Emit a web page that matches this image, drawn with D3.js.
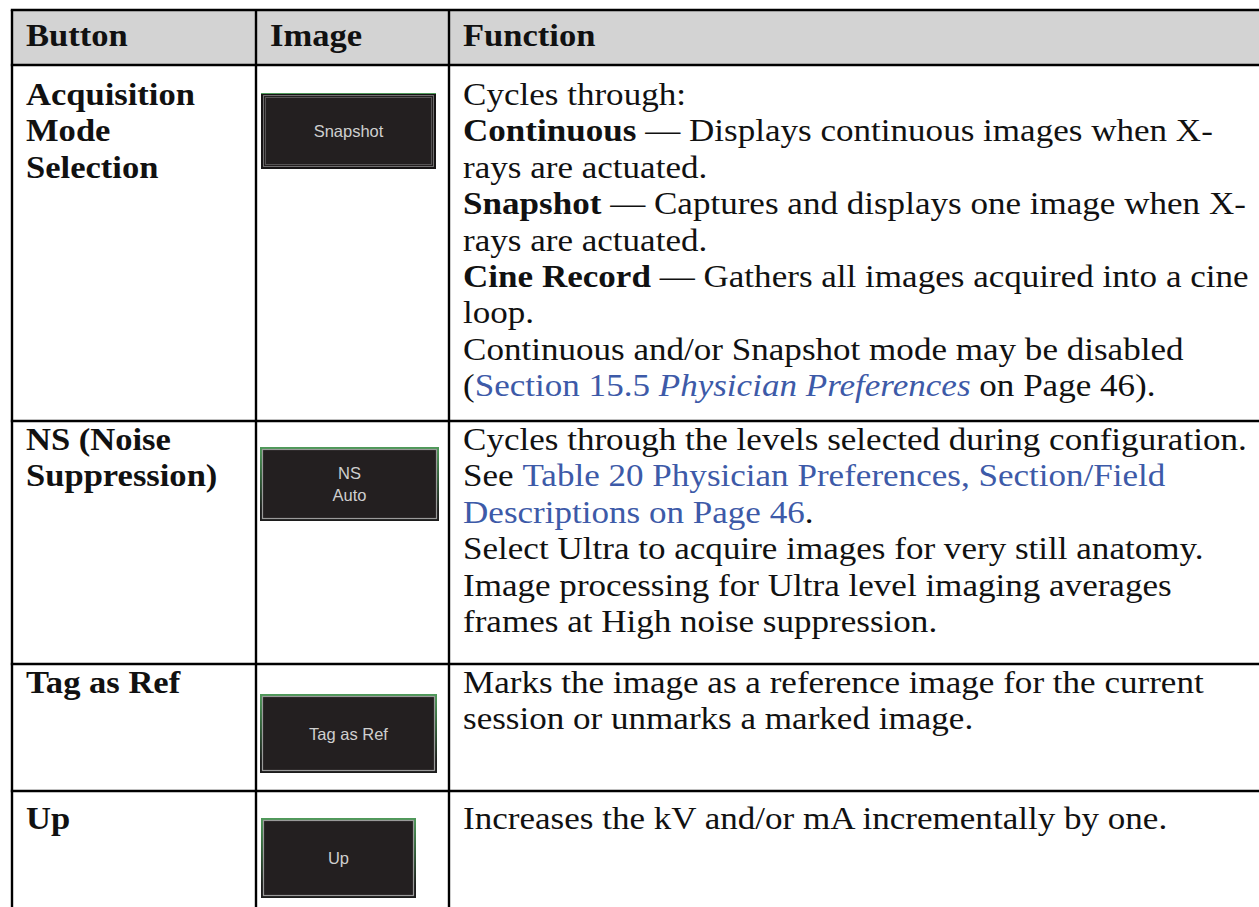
<!DOCTYPE html>
<html><head><meta charset="utf-8">
<script src="https://cdn.jsdelivr.net/npm/d3@7"></script>
<style>body{margin:0;background:#fff;overflow:hidden} text{white-space:pre}</style></head>
<body><svg id="c" width="1259" height="907"></svg>
<script>
// ---------- data ----------
const headers = ["Button", "Image", "Function"];
const buttonNames = [["Acquisition", "Mode", "Selection"], ["NS (Noise", "Suppression)"], ["Tag as Ref"], ["Up"]];
const imageLabels = [["Snapshot"], ["NS", "Auto"], ["Tag as Ref"], ["Up"]];
const imageStates = ["selected", "normal", "normal", "normal"];
// markup: *bold*  ~italic~  {link}
const functionRow1 = [
  "Cycles through:",
  "*Continuous* \u2014 Displays continuous images when X-",
  "rays are actuated.",
  "*Snapshot* \u2014 Captures and displays one image when X-",
  "rays are actuated.",
  "*Cine Record* \u2014 Gathers all images acquired into a cine",
  "loop.",
  "Continuous and/or Snapshot mode may be disabled",
  "({Section 15.5 ~Physician Preferences~} on Page 46)."
];
const functionRow2 = [
  "Cycles through the levels selected during configuration.",
  "See {Table 20 Physician Preferences, Section/Field}",
  "{Descriptions on Page 46}.",
  "Select Ultra to acquire images for very still anatomy.",
  "Image processing for Ultra level imaging averages",
  "frames at High noise suppression."
];
const functionRow3 = [
  "Marks the image as a reference image for the current",
  "session or unmarks a marked image."
];
const functionRow4 = ["Increases the kV and/or mA incrementally by one."];
const functionLines = [functionRow1, functionRow2, functionRow3, functionRow4];

// ---------- layout ----------
const W = 1259, H = 907;
const tableTop = 10, headerBottom = 65;
const rowBottoms = [421, 664, 791, 960];
const colBorders = [12, 256, 449];
const colText = d3.scaleOrdinal().domain([0, 1, 2]).range([26, 270, 463]);
const firstBaseline = [105, 450, 693, 829];
const leading = 36.4;
const imgBoxes = [[261, 93, 175, 76], [260, 447, 179, 74], [260, 694, 177, 79], [261, 818, 155, 80]];
const serif = "'Liberation Serif','Times New Roman',serif";
const fs = 32.5;
const linkColor = "#3d5aa8";

const svg = d3.select("#c");
const defs = svg.append("defs");
const gr = defs.append("linearGradient").attr("id", "btnEdge").attr("x1", 0).attr("x2", 0).attr("y1", 0).attr("y2", 1);
gr.append("stop").attr("offset", "0%").attr("stop-color", "#4f9a5a");
gr.append("stop").attr("offset", "45%").attr("stop-color", "#2f5a36");
gr.append("stop").attr("offset", "85%").attr("stop-color", "#1c1c1c");
gr.append("stop").attr("offset", "100%").attr("stop-color", "#1c1c1c");

// measure horizontal scale factors so the serif lines span the reference widths
function measure(str, weight) {
  const t = svg.append("text").attr("font-family", serif).attr("font-size", fs).attr("font-weight", weight).text(str);
  const w = t.node().getComputedTextLength(); t.remove(); return w;
}
const sxR = 784 / measure("Cycles through the levels selected during configuration.", "normal");
const sxB = 169 / measure("Acquisition", "bold");

// header background
svg.append("rect").attr("x", colBorders[0]).attr("y", tableTop).attr("width", W - colBorders[0]).attr("height", headerBottom - tableTop).attr("fill", "#d3d3d3");

function parse(line) {
  const segs = []; let b = false, i = false, l = false, cur = "";
  for (const ch of line) {
    if ("*~{}".includes(ch)) {
      if (cur) segs.push({ t: cur, b, i, l }); cur = "";
      if (ch === "*") b = !b; else if (ch === "~") i = !i; else if (ch === "{") l = true; else l = false;
    } else cur += ch;
  }
  if (cur) segs.push({ t: cur, b, i, l });
  return segs;
}

function addText(g, x, y, bold, sx) {
  return g.append("text").attr("transform", `translate(${x},${y}) scale(${sx},1)`)
    .attr("font-family", serif).attr("font-size", fs).attr("fill", "#111")
    .attr("font-weight", bold ? "bold" : "normal");
}

// header text
const hg = svg.append("g");
headers.forEach((h, c) => addText(hg, colText(c), 46, true, sxB).text(h));

// column 1 names
const ng = svg.append("g");
buttonNames.forEach((lines, r) => lines.forEach((s, k) => addText(ng, colText(0), firstBaseline[r] + k * leading, true, sxB).text(s)));

// column 3 function text
const fg = svg.append("g");
functionLines.forEach((lines, r) => lines.forEach((s, k) => {
  const t = addText(fg, colText(2), firstBaseline[r] + k * leading, false, sxR);
  t.selectAll("tspan").data(parse(s)).join("tspan")
    .attr("font-weight", d => d.b ? "bold" : null)
    .attr("font-style", d => d.i ? "italic" : null)
    .attr("fill", d => d.l ? linkColor : null)
    .text(d => d.t);
}));

// button images
const bg = svg.append("g");
imageLabels.forEach((labels, r) => {
  const [x, y, w, h] = imgBoxes[r];
  const g = bg.append("g");
  if (imageStates[r] === "selected") {
    g.append("rect").attr("x", x).attr("y", y).attr("width", w).attr("height", h).attr("fill", "#161415");
    g.append("line").attr("x1", x).attr("x2", x + w).attr("y1", y + 0.5).attr("y2", y + 0.5).attr("stroke", "#4f9a5a").attr("stroke-width", 1);
    g.append("rect").attr("x", x + 2.5).attr("y", y + 2.5).attr("width", w - 5).attr("height", h - 5).attr("fill", "#231f20")
      .attr("stroke", "#c4c4c4").attr("stroke-width", 1).attr("stroke-dasharray", "1,1");
    g.append("rect").attr("x", x + 4.5).attr("y", y + 4.5).attr("width", w - 9).attr("height", h - 9).attr("fill", "none")
      .attr("stroke", "#8a8a8a").attr("stroke-width", 1).attr("stroke-dasharray", "1,1");
  } else {
    g.append("rect").attr("x", x).attr("y", y).attr("width", w).attr("height", h).attr("fill", "url(#btnEdge)");
    g.append("rect").attr("x", x + 2.5).attr("y", y + 2.5).attr("width", w - 5).attr("height", h - 5).attr("fill", "#231f20")
      .attr("stroke", "#9a9a9a").attr("stroke-width", 1.2);
  }
  const n = labels.length, lh = 22;
  labels.forEach((s, k) => {
    g.append("text").attr("x", x + w / 2).attr("y", y + h / 2 + (k - (n - 1) / 2) * lh)
      .attr("text-anchor", "middle").attr("dominant-baseline", "central")
      .attr("font-family", "'Liberation Sans',Arial,sans-serif").attr("font-size", 16.5)
      .attr("fill", "#cfcfcf").text(s);
  });
});

// grid lines
const lg = svg.append("g").attr("stroke", "#000").attr("stroke-width", 2.4);
const hLines = [tableTop, headerBottom].concat(rowBottoms.slice(0, 3));
lg.selectAll("line.h").data(hLines).join("line").attr("class", "h")
  .attr("x1", colBorders[0] - 1.2).attr("x2", W).attr("y1", d => d).attr("y2", d => d);
lg.selectAll("line.v").data(colBorders).join("line").attr("class", "v")
  .attr("x1", d => d).attr("x2", d => d).attr("y1", tableTop).attr("y2", H);
</script></body></html>
